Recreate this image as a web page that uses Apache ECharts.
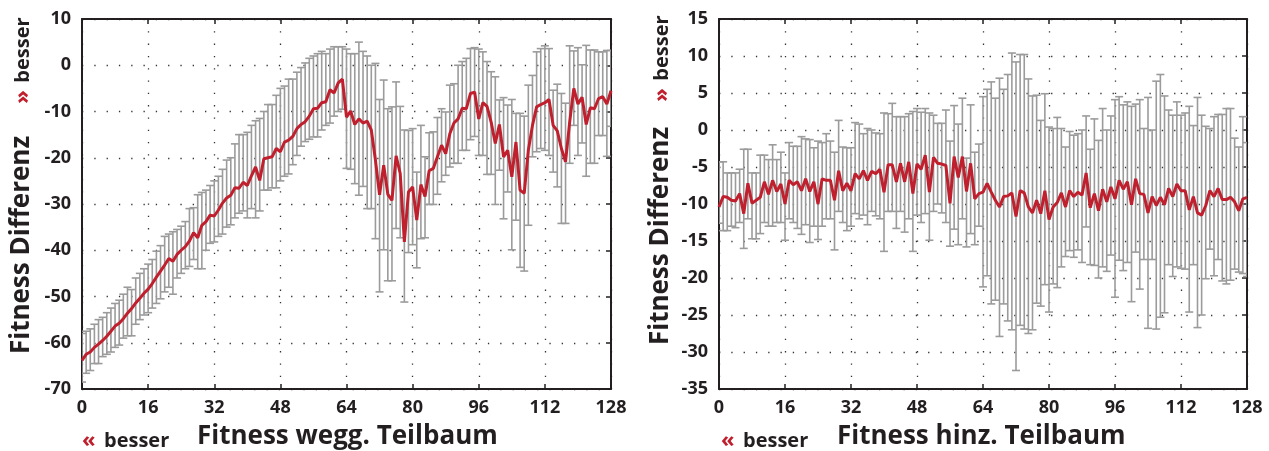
<!DOCTYPE html>
<html>
<head>
<meta charset="utf-8">
<script src="https://cdn.jsdelivr.net/npm/echarts@6/dist/echarts.min.js"></script>
<style>
html, body { margin: 0; padding: 0; background: #fff; }
#chart { width: 1269px; height: 451px; }
</style>
</head>
<body>
<div id="chart"></div>
<script>
// linke Grafik: Fitness wegg. Teilbaum (Mittelwert, untere / obere Fehlergrenze)
var leftMean = [
    -63.8, -62.5, -62.0, -61.0, -60.3, -59.5, -58.6, -57.5, -56.4, -55.8,
    -54.8, -53.6, -52.6, -51.4, -50.4, -49.3, -48.4, -47.2, -45.8, -44.5,
    -43.2, -41.8, -42.4, -40.9, -40.0, -39.2, -38.0, -36.2, -37.3, -34.6,
    -33.8, -32.4, -32.6, -31.3, -29.8, -28.7, -28.1, -26.5, -26.6, -25.3,
    -26.0, -23.9, -22.0, -24.9, -20.2, -20.0, -19.8, -18.0, -18.7, -16.6,
    -16.2, -15.4, -13.7, -12.8, -12.2, -11.0, -9.4, -9.3, -8.1, -7.9,
    -5.3, -6.0, -3.8, -3.0, -11.2, -9.9, -12.8, -11.6, -12.5, -12.1,
    -14.0, -20.5, -28.0, -21.6, -27.9, -29.2, -19.6, -23.4, -38.2, -27.4,
    -26.3, -33.5, -25.8, -28.4, -22.8, -22.3, -19.8, -17.3, -19.1, -14.8,
    -12.5, -11.6, -9.3, -9.4, -6.1, -5.8, -11.6, -8.1, -8.9, -12.3,
    -16.9, -12.8, -19.8, -18.4, -24.1, -16.6, -27.0, -27.7, -18.4, -13.0,
    -9.0, -8.5, -8.1, -7.4, -13.0, -14.2, -18.0, -20.9, -12.3, -5.0,
    -8.4, -6.9, -12.8, -9.2, -9.4, -7.2, -6.8, -8.4, -5.5
];
var leftHigh = [
    -58.0, -57.5, -57.0, -56.0, -55.0, -54.5, -53.5, -52.5, -51.5, -50.8,
    -49.5, -48.0, -48.5, -46.0, -45.0, -44.0, -43.0, -42.0, -40.2, -39.0,
    -37.0, -36.5, -36.0, -35.5, -34.8, -33.8, -31.0, -30.8, -28.0, -27.5,
    -27.0, -26.0, -25.0, -24.0, -22.5, -20.5, -20.0, -17.0, -15.0, -15.0,
    -14.5, -13.0, -12.0, -11.5, -10.0, -8.5, -8.5, -6.5, -5.0, -4.5,
    -3.0, -3.0, -1.5, -0.5, 0.5, 1.5, 2.0, 2.5, 3.0, 2.5,
    3.5, 4.0, 4.0, 4.0, 3.5, 2.5, 2.5, 5.0, 3.0, 2.0,
    0.0, 0.4, -7.4, -3.2, -9.4, -9.0, -3.6, -8.9, -14.0, -14.1,
    -13.7, -23.1, -13.0, -19.8, -14.6, -14.4, -11.3, -9.4, -10.1, -4.3,
    -4.0, 0.0, 0.8, 1.5, 3.6, 3.8, 3.5, 2.9, 0.8, -1.4,
    -2.5, -7.5, -7.0, -8.6, -7.4, -10.4, -10.4, -11.0, -4.3, -2.2,
    2.9, 3.6, 4.2, 3.6, -5.4, -4.1, -6.1, -8.2, 4.2, 3.1,
    3.8, 0.1, 4.3, 3.3, 3.3, 2.9, 2.9, 3.2, 3.2
];
var leftLow = [
    -68.5, -66.6, -66.0, -64.5, -64.5, -63.0, -62.5, -62.0, -61.0, -60.5,
    -59.0, -58.5, -58.5, -56.0, -55.0, -54.0, -53.5, -52.5, -51.5, -50.5,
    -49.0, -48.0, -49.5, -46.0, -45.0, -44.0, -43.5, -42.0, -44.0, -44.0,
    -40.0, -38.5, -38.2, -37.0, -36.5, -35.0, -34.5, -33.0, -32.0, -31.5,
    -33.0, -31.0, -33.0, -31.5, -27.0, -27.0, -26.5, -26.5, -25.0, -24.0,
    -23.5, -21.5, -19.5, -17.5, -16.5, -16.0, -15.5, -15.5, -14.0, -13.0,
    -12.5, -11.0, -10.0, -9.5, -22.3, -22.5, -25.6, -28.1, -26.2, -31.0,
    -31.0, -37.5, -49.0, -39.9, -46.6, -46.6, -35.3, -37.3, -51.2, -40.5,
    -38.8, -43.8, -37.5, -37.3, -30.1, -30.1, -27.9, -25.2, -23.8, -22.0,
    -21.2, -21.2, -18.4, -18.4, -16.1, -15.4, -19.5, -19.5, -23.6, -23.6,
    -30.1, -22.7, -33.2, -27.4, -39.9, -33.5, -43.7, -44.5, -34.6, -19.8,
    -18.7, -18.0, -18.4, -19.5, -23.1, -26.3, -34.2, -34.2, -21.2, -13.0,
    -19.5, -16.8, -24.0, -21.2, -21.2, -15.2, -15.2, -19.7, -13.2
];

// rechte Grafik: Fitness hinz. Teilbaum
var rightMean = [
    -10.4, -9.0, -9.1, -9.5, -9.6, -8.6, -11.3, -7.2, -9.9, -9.5,
    -9.1, -7.0, -8.7, -6.8, -8.3, -7.3, -10.0, -6.8, -7.4, -7.0,
    -8.2, -6.6, -8.3, -7.0, -10.0, -6.6, -6.8, -6.8, -9.5, -5.5,
    -8.2, -7.2, -8.2, -5.9, -6.6, -5.5, -6.8, -5.6, -5.9, -5.3,
    -8.4, -4.7, -4.7, -7.0, -4.5, -7.0, -4.3, -8.6, -4.6, -5.3,
    -3.4, -8.4, -3.7, -4.5, -4.6, -4.8, -9.9, -3.6, -6.4, -3.6,
    -8.3, -4.5, -9.3, -8.6, -8.4, -7.2, -8.4, -9.5, -10.4, -9.0,
    -8.9, -8.5, -11.7, -8.2, -8.5, -10.4, -11.2, -9.5, -11.3, -8.2,
    -12.1, -10.4, -9.8, -8.5, -10.4, -8.2, -9.0, -8.4, -8.8, -5.8,
    -10.5, -8.6, -10.9, -8.0, -9.7, -7.7, -9.3, -6.8, -8.0, -7.0,
    -10.1, -6.6, -8.6, -8.7, -11.2, -9.0, -10.2, -9.1, -10.1, -7.9,
    -9.0, -7.3, -8.2, -8.2, -10.8, -9.0, -11.2, -11.5, -10.2, -8.2,
    -9.0, -7.9, -9.4, -9.4, -9.1, -9.7, -10.9, -9.3, -9.1
];
var rightHigh = [
    -4.3, -4.3, -5.8, -5.8, -5.8, -5.3, -2.6, -2.6, -5.8, -5.8,
    -3.4, -3.4, -4.0, -2.0, -4.0, -3.0, -5.8, -1.7, -2.2, -2.2,
    -0.9, -1.2, -1.3, -2.4, -1.5, -1.7, -0.5, -1.5, -3.0, 1.3,
    -2.3, -2.4, -2.4, 1.0, 0.8, -0.5, 0.2, 0.0, -0.4, -0.5,
    2.3, 2.2, 3.6, 1.8, 1.8, 1.8, 2.2, 2.5, 2.9, 2.4,
    2.9, 2.3, 2.0, 0.9, 0.9, 2.7, -1.5, 3.3, 0.8, 4.3,
    -3.8, 3.4, -3.0, -1.9, 4.5, 5.5, 6.5, 4.3, 7.0, 5.5,
    7.5, 10.4, 9.2, 10.2, 10.2, 6.9, 4.6, 4.7, 1.3, 4.9,
    0.4, 0.2, 1.7, 0.2, -2.3, -0.2, -0.7, -0.5, 0.0, 1.9,
    -2.6, 1.5, -1.4, 2.9, 0.0, 1.9, 4.1, 4.5, 3.4, 3.8,
    3.2, 3.5, 4.1, 0.2, 4.4, 0.0, 6.6, 7.5, 4.6, 2.7,
    2.0, 3.8, 2.0, 2.3, 3.2, 0.6, 4.4, 2.0, 0.5, 0.2,
    1.8, 2.1, 2.1, 2.9, 2.9, -1.1, -2.3, 1.8, -1.7
];
var rightLow = [
    -12.6, -13.6, -13.6, -13.0, -13.2, -12.5, -16.0, -12.0, -14.7, -14.7,
    -14.0, -12.5, -13.0, -13.0, -12.5, -12.5, -14.9, -12.0, -12.5, -13.3,
    -14.1, -12.8, -15.2, -13.0, -14.8, -13.0, -12.0, -12.0, -16.2, -11.0,
    -12.5, -13.6, -13.0, -11.3, -12.0, -11.5, -12.8, -11.0, -11.6, -12.0,
    -16.4, -11.0, -11.0, -13.3, -11.0, -13.8, -12.0, -16.4, -11.5, -12.5,
    -11.3, -14.9, -11.0, -10.0, -11.2, -12.5, -15.7, -13.4, -15.5, -12.0,
    -15.8, -14.0, -15.5, -13.0, -21.2, -19.7, -23.5, -23.0, -27.9, -23.5,
    -25.8, -27.0, -32.5, -26.4, -26.9, -27.5, -27.0, -23.4, -23.8, -20.9,
    -24.6, -20.8, -21.3, -18.5, -17.1, -16.3, -17.2, -16.2, -17.9, -13.1,
    -18.2, -18.3, -20.0, -18.5, -19.1, -16.9, -22.6, -17.6, -19.0, -17.9,
    -23.2, -16.5, -21.5, -17.5, -26.8, -17.5, -26.9, -25.3, -24.7, -18.2,
    -19.8, -18.5, -18.7, -18.8, -24.6, -18.2, -26.7, -25.0, -20.1, -16.1,
    -19.7, -17.5, -20.4, -20.8, -20.3, -18.8, -19.2, -19.4, -19.8
];

var FONT = '"Open Sans", "DejaVu Sans", sans-serif';
var INK = '#231f20';
var RED = '#c0202e';
var GREY = '#9b9b9b';

var chart = echarts.init(document.getElementById('chart'));

function lineData(mean) {
    return mean.map(function (v, i) { return [i, v]; });
}
function barData(low, high) {
    return low.map(function (v, i) { return [i, v, high[i]]; });
}

// Fehlerbalken mit Querstrichen oben und unten
function renderBar(params, api) {
    var x = api.value(0);
    var top = api.coord([x, api.value(2)]);
    var bot = api.coord([x, api.value(1)]);
    var hw = 4;
    var style = { stroke: GREY, lineWidth: 1.6 };
    return {
        type: 'group',
        children: [
            { type: 'line', shape: { x1: top[0], y1: top[1], x2: bot[0], y2: bot[1] }, style: style },
            { type: 'line', shape: { x1: top[0] - hw, y1: top[1], x2: top[0] + hw, y2: top[1] }, style: style },
            { type: 'line', shape: { x1: bot[0] - hw, y1: bot[1], x2: bot[0] + hw, y2: bot[1] }, style: style }
        ]
    };
}

var dotted = { color: '#333', width: 1.3, type: [1.3, 11] };
var frameLine = { show: true, onZero: false, lineStyle: { color: INK, width: 2 } };
var tickLabel = { fontFamily: FONT, fontSize: 18, fontWeight: 'bold', color: INK };
var inTick = { show: true, inside: true, length: 5, lineStyle: { color: INK, width: 1.5 } };

function bottomAxis(grid) {
    return {
        type: 'value', gridIndex: grid, position: 'bottom', min: 0, max: 128, interval: 16,
        axisLine: frameLine,
        axisTick: inTick,
        axisLabel: Object.assign({ margin: 10 }, tickLabel),
        splitLine: { show: true, lineStyle: dotted }
    };
}
function topAxis(grid) {
    return {
        type: 'value', gridIndex: grid, position: 'top', min: 0, max: 128, interval: 16,
        axisLine: frameLine,
        axisTick: inTick,
        axisLabel: { show: false },
        splitLine: { show: false }
    };
}
function leftAxis(grid, min, max, step) {
    return {
        type: 'value', gridIndex: grid, position: 'left', min: min, max: max, interval: step,
        axisLine: frameLine,
        axisTick: { show: false },
        axisLabel: Object.assign({ margin: 11 }, tickLabel),
        splitLine: { show: true, lineStyle: dotted }
    };
}
function rightAxis(grid, min, max, step) {
    return {
        type: 'value', gridIndex: grid, position: 'right', min: min, max: max, interval: step,
        axisLine: frameLine,
        axisTick: inTick,
        axisLabel: { show: false },
        splitLine: { show: false }
    };
}

function vText(x, y, text, size, color) {
    return {
        type: 'text', x: x, y: y, rotation: Math.PI / 2,
        style: { text: text, font: 'bold ' + size + 'px ' + FONT, fill: color, align: 'center', verticalAlign: 'middle' }
    };
}
function hText(x, y, text, size, color) {
    return {
        type: 'text', x: x, y: y,
        style: { text: text, font: 'bold ' + size + 'px ' + FONT, fill: color, align: 'left', verticalAlign: 'middle' }
    };
}

var option = {
    animation: false,
    backgroundColor: '#fff',
    grid: [
        { left: 82, top: 19, width: 529, height: 370 },
        { left: 719, top: 19, width: 528, height: 370 }
    ],
    xAxis: [bottomAxis(0), topAxis(0), bottomAxis(1), topAxis(1)],
    yAxis: [
        leftAxis(0, -70, 10, 10), rightAxis(0, -70, 10, 10),
        leftAxis(1, -35, 15, 5), rightAxis(1, -35, 15, 5)
    ],
    series: [
        {
            type: 'custom', xAxisIndex: 0, yAxisIndex: 0, clip: true,
            renderItem: renderBar, encode: { x: 0, y: [1, 2] },
            data: barData(leftLow, leftHigh), z: 2
        },
        {
            type: 'line', xAxisIndex: 0, yAxisIndex: 0, showSymbol: false,
            lineStyle: { color: RED, width: 3 }, data: lineData(leftMean), z: 3
        },
        {
            type: 'custom', xAxisIndex: 2, yAxisIndex: 2, clip: true,
            renderItem: renderBar, encode: { x: 0, y: [1, 2] },
            data: barData(rightLow, rightHigh), z: 2
        },
        {
            type: 'line', xAxisIndex: 2, yAxisIndex: 2, showSymbol: false,
            lineStyle: { color: RED, width: 3 }, data: lineData(rightMean), z: 3
        }
    ],
    graphic: [
        vText(22, 245, 'Fitness Differenz', 26, INK),
        vText(23, 97, '\u00bb', 22, RED),
        vText(23, 50, 'besser', 20, INK),
        hText(197, 437, 'Fitness wegg. Teilbaum', 26, INK),
        hText(82, 441, '\u00ab', 22, RED),
        hText(104, 441, 'besser', 20, INK),

        vText(661, 236, 'Fitness Differenz', 26, INK),
        vText(662, 95, '\u00bb', 22, RED),
        vText(662, 48, 'besser', 20, INK),
        hText(837, 437, 'Fitness hinz. Teilbaum', 26, INK),
        hText(721, 441, '\u00ab', 22, RED),
        hText(743, 441, 'besser', 20, INK)
    ]
};

chart.setOption(option);
</script>
</body>
</html>
